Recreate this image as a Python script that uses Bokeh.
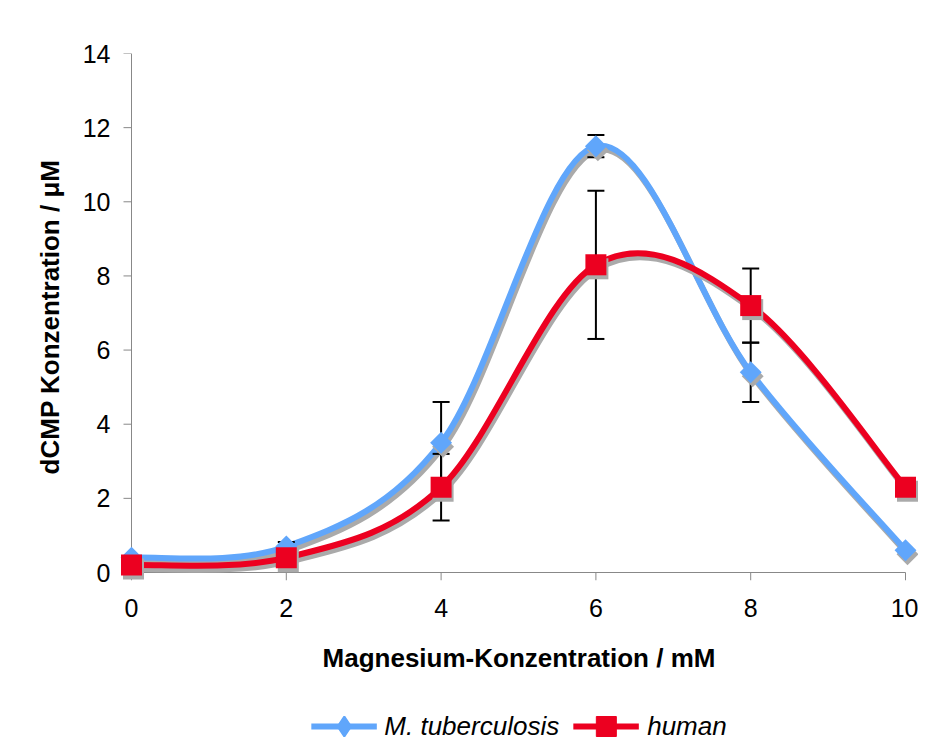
import numpy as np
from bokeh.plotting import figure
from bokeh.layouts import column
from bokeh.models import Range1d, Legend, LegendItem, FixedTicker
from bokeh.embed import file_html
from bokeh.resources import INLINE

# ---- data ----
mg = [0, 2, 4, 6, 8, 10]
mtb = [0.4, 0.7, 3.5, 11.5, 5.4, 0.6]
mtb_err = [0.0, 0.12, 1.1, 0.3, 0.8, 0.0]
human = [0.2, 0.4, 2.3, 8.3, 7.2, 2.3]
human_err = [0.0, 0.0, 0.9, 2.0, 1.0, 0.0]
x_ticks = [0, 2, 4, 6, 8, 10]
y_ticks = [0, 2, 4, 6, 8, 10, 12, 14]
series_names = ["M. tuberculosis", "human"]

BLUE = "#60a6fb"
RED = "#ec0020"
SHADOW = "#aaaaaa"
AXIS = "#888888"
FONT = "Liberation Sans"

# pixel geometry of the value area
PXW, PXH = 774, 519          # pixels covering the tick span
PAD_L, PAD_R, PAD_B = 12, 13, 8
XSC = PXW / (x_ticks[-1] - x_ticks[0])
YSC = PXH / (y_ticks[-1] - y_ticks[0])

x_range = Range1d(x_ticks[0] - PAD_L / XSC, x_ticks[-1] + PAD_R / XSC)
y_range = Range1d(y_ticks[0] - PAD_B / YSC, y_ticks[-1])

LEFT, TOP, BOTTOM = 119, 53, 110
W = LEFT + PXW + PAD_L + PAD_R
H = TOP + PXH + PAD_B + BOTTOM
p = figure(width=W, height=H,
           x_range=x_range, y_range=y_range,
           output_backend="svg", toolbar_location=None,
           min_border_left=LEFT, min_border_right=0,
           min_border_top=TOP, min_border_bottom=BOTTOM)
p.outline_line_color = None
p.xgrid.grid_line_color = None
p.ygrid.grid_line_color = None
p.background_fill_color = "white"
p.border_fill_color = "white"

for ax in (p.xaxis[0], p.yaxis[0]):
    ax.axis_line_color = None
    ax.major_tick_line_color = None
    ax.minor_tick_line_color = None
    ax.major_tick_out = 0
    ax.major_tick_in = 0
    ax.major_label_text_font = FONT
    ax.major_label_text_font_size = "25px"
    ax.major_label_text_color = "black"
    ax.axis_label_text_font = FONT
    ax.axis_label_text_font_size = "26px"
    ax.axis_label_text_font_style = "bold"
    ax.axis_label_text_color = "black"

p.xaxis.ticker = FixedTicker(ticks=x_ticks)
p.yaxis.ticker = FixedTicker(ticks=y_ticks)
p.xaxis.axis_label = "Magnesium-Konzentration / mM"
p.yaxis.axis_label = "dCMP Konzentration / μM"
p.xaxis.major_label_standoff = 18
p.xaxis.axis_label_standoff = 23
p.yaxis.major_label_standoff = 9
p.yaxis.axis_label_standoff = 15

# axis lines and tick marks drawn at the data origin
TICK = 8
p.segment(x0=[x_ticks[0], x_ticks[0]], y0=[y_ticks[0], y_ticks[0]],
          x1=[x_ticks[0], x_ticks[-1]], y1=[y_ticks[-1], y_ticks[0]],
          line_color=AXIS, line_width=1)
p.segment(x0=[x_ticks[0] - TICK / XSC] * len(y_ticks), y0=y_ticks,
          x1=[x_ticks[0]] * len(y_ticks), y1=y_ticks,
          line_color=AXIS, line_width=1)
p.segment(x0=x_ticks, y0=[y_ticks[0]] * len(x_ticks),
          x1=x_ticks, y1=[y_ticks[0] - TICK / YSC] * len(x_ticks),
          line_color=AXIS, line_width=1)

# shadow offset (screen px -> data units)
dx = 2 / XSC
dy = -4 / YSC


def bezier_segments(xs, ys):
    n = len(xs)
    out = dict(x0=[], y0=[], x1=[], y1=[], cx0=[], cy0=[], cx1=[], cy1=[])
    for i in range(n - 1):
        pi = max(i - 1, 0)
        ni = min(i + 2, n - 1)
        out["x0"].append(xs[i]); out["y0"].append(ys[i])
        out["x1"].append(xs[i + 1]); out["y1"].append(ys[i + 1])
        out["cx0"].append(xs[i] + (xs[i + 1] - xs[pi]) / 6)
        out["cy0"].append(ys[i] + (ys[i + 1] - ys[pi]) / 6)
        out["cx1"].append(xs[i + 1] - (xs[ni] - xs[i]) / 6)
        out["cy1"].append(ys[i + 1] - (ys[ni] - ys[i]) / 6)
    return out


def shifted(seg):
    s = {}
    for k, v in seg.items():
        off = dx if k.startswith("x") or k.startswith("cx") else dy
        s[k] = [a + off for a in v]
    return s


# (values, errors, colour, marker, size, angle, legend marker, legend outline)
series = [(mtb, mtb_err, BLUE, "square", 15.5, np.pi / 4, "diamond", 2),
          (human, human_err, RED, "square", 21, 0.0, "square", 1)]

# smoothed lines with shadows
for ys, err, col, mk, sz, ang, lmk, llw in series:
    seg = bezier_segments(mg, ys)
    p.bezier(source=shifted(seg), x0="x0", y0="y0", x1="x1", y1="y1",
             cx0="cx0", cy0="cy0", cx1="cx1", cy1="cy1",
             line_color=SHADOW, line_width=6, line_cap="round")
    p.bezier(source=seg, x0="x0", y0="y0", x1="x1", y1="y1",
             cx0="cx0", cy0="cy0", cx1="cx1", cy1="cy1",
             line_color=col, line_width=6, line_cap="round")

# error bars
for ys, err, col, mk, sz, ang, lmk, llw in series:
    xe = [x for x, e in zip(mg, err) if e > 0]
    lo = [y - e for y, e in zip(ys, err) if e > 0]
    hi = [y + e for y, e in zip(ys, err) if e > 0]
    p.segment(x0=xe, y0=lo, x1=xe, y1=hi, line_color="black", line_width=2)
    p.scatter(x=xe + xe, y=lo + hi, marker="dash", size=17,
              line_color="black", line_width=2)

# markers with shadows
for ys, err, col, mk, sz, ang, lmk, llw in series:
    p.scatter(x=[x + dx for x in mg], y=[y + dy for y in ys], marker=mk,
              size=sz, angle=ang, fill_color=SHADOW, line_color=None)
    p.scatter(x=mg, y=ys, marker=mk, size=sz, angle=ang,
              fill_color=col, line_color=None)

# ---- legend strip below the chart ----
LEG_H = 72
p2 = figure(width=W, height=LEG_H, x_range=Range1d(0, 1), y_range=Range1d(0, 1),
            output_backend="svg", toolbar_location=None,
            x_axis_location=None, y_axis_location=None,
            min_border_left=0, min_border_right=0,
            min_border_top=0, min_border_bottom=0)
p2.outline_line_color = None
p2.xgrid.grid_line_color = None
p2.ygrid.grid_line_color = None

GH = 50   # legend marker size = 0.4 * glyph height (+ outline)
items = []
for (ys, err, col, mk, sz, ang, lmk, llw), name in zip(series, series_names):
    lr = p2.line(x=[np.nan], y=[np.nan], line_color=col, line_width=6)
    mr = p2.scatter(x=[np.nan], y=[np.nan], marker=lmk, size=0.4 * GH,
                    fill_color=col, line_color=col, line_width=llw)
    items.append(LegendItem(label=name, renderers=[lr, mr]))

legend = Legend(items=items, orientation="horizontal", location="center",
                glyph_width=66, glyph_height=GH,
                label_text_font=FONT, label_text_font_size="26px",
                label_text_font_style="italic", label_text_color="black",
                label_standoff=8, spacing=14, padding=0, margin=0,
                border_line_color=None, background_fill_alpha=0)
p2.add_layout(legend)

layout = column(p, p2, spacing=0)
open("out.html", "w").write(file_html(layout, INLINE))
